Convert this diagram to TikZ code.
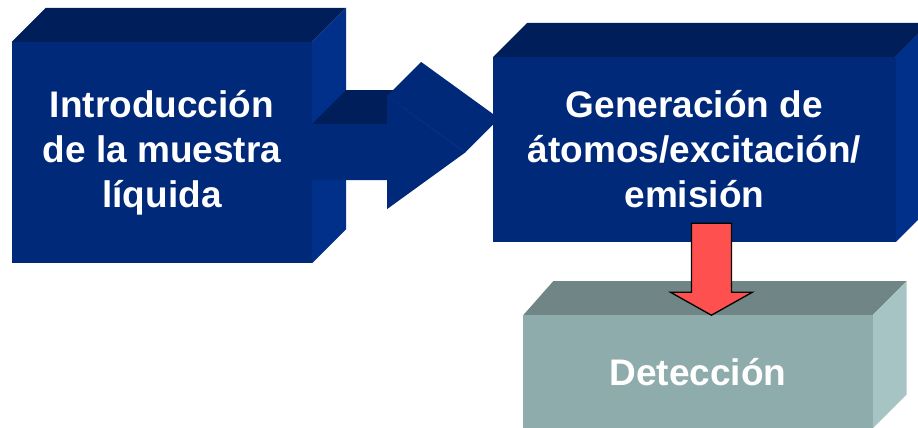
\documentclass[tikz,border=0pt]{standalone}
\usepackage{fontspec}
\setmainfont{Liberation Sans}
\usepackage{tikz}
\usetikzlibrary{positioning, calc, backgrounds}
\usepackage{xcolor}
\definecolor{navyfront}{RGB}{0,41,122}
\definecolor{navytop}{RGB}{0,31,90}
\definecolor{navyside}{RGB}{0,48,138}
\definecolor{grayfront}{RGB}{143,172,172}
\definecolor{graytop}{RGB}{112,133,133}
\definecolor{grayside}{RGB}{166,196,196}
\definecolor{redarrow}{RGB}{255,80,80}
\tikzstyle{block} = [rectangle, inner sep=0pt, align=center, text=white,
                     font=\bfseries\fontsize{37}{45}\selectfont]
\tikzstyle{downarrow} = [draw=black, fill=redarrow, line width=1.3pt, line join=miter]

\begin{document}
\begin{tikzpicture}[x=1pt, y=-1pt]
  \useasboundingbox (0,0) rectangle (918,428);
  \node (intro) [block, minimum width=300pt, minimum height=221pt] at (162,152.5) {Introducción\\de la muestra\\líquida};
  \node (gen)   [block, minimum width=402pt, minimum height=185pt, right=181pt of intro, yshift=3pt] {Generación de\\átomos/excitación/\\emisión};
  \node (det)   [block, minimum width=349pt, minimum height=113pt, below=73pt of gen, xshift=3.5pt] {Detección};

  \begin{scope}[on background layer]
    % first block
    \fill[navytop]   (intro.north west) -- ++(34,-34) -- ($(intro.north east)+(34,-34)$) -- (intro.north east) -- cycle;
    \fill[navyside]  (intro.north east) -- ++(34,-34) -- ($(intro.south east)+(34,-34)$) -- (intro.south east) -- cycle;
    \fill[navyfront] (intro.north west) rectangle (intro.south east);
    % block arrow
    \begin{scope}[shift={(intro.east)}]
      \fill[navytop]   (0,-28.5) -- (34,-62.5) -- (109,-62.5) -- (75,-28.5) -- cycle;
      \fill[navyfront] (75,-56.5) -- (109,-90.5) -- (187,-34) -- (153,0) -- cycle;
      \fill[navyfront] (0,-28.5) -- (75,-28.5) -- (75,-56.5) -- (153,0) -- (75,56.5) -- (75,27.5) -- (0,27.5) -- cycle;
      \draw[navyside, line width=0.6pt] (75,-56.5) -- (153,0);
    \end{scope}
    % second block
    \fill[navytop]   (gen.north west) -- ++(34,-34) -- ($(gen.north east)+(34,-34)$) -- (gen.north east) -- cycle;
    \fill[navyside]  (gen.north east) -- ++(34,-34) -- ($(gen.south east)+(34,-34)$) -- (gen.south east) -- cycle;
    \fill[navyfront] (gen.north west) rectangle (gen.south east);
    % third block
    \fill[graytop]   (det.north west) -- ++(30,-34) -- ($(det.north east)+(34,-34)$) -- (det.north east) -- cycle;
    \fill[grayside]  (det.north east) -- ++(34,-34) -- ($(det.south east)+(34,-34)$) -- (det.south east) -- cycle;
    \fill[grayfront] (det.north west) rectangle (det.south east);
  \end{scope}

  \coordinate (rtop) at ($(gen.south)+(17,-19)$);
  \coordinate (rtip) at ($(det.north)+(13.5,0)$);
  \draw[downarrow] ($(rtop)+(-20,0)$) -- ($(rtip)+(-20,-23)$) -- ($(rtip)+(-41,-23)$) -- (rtip)
        -- ($(rtip)+(41,-23)$) -- ($(rtip)+(20,-23)$) -- ($(rtop)+(20,0)$) -- cycle;
\end{tikzpicture}
\end{document}
